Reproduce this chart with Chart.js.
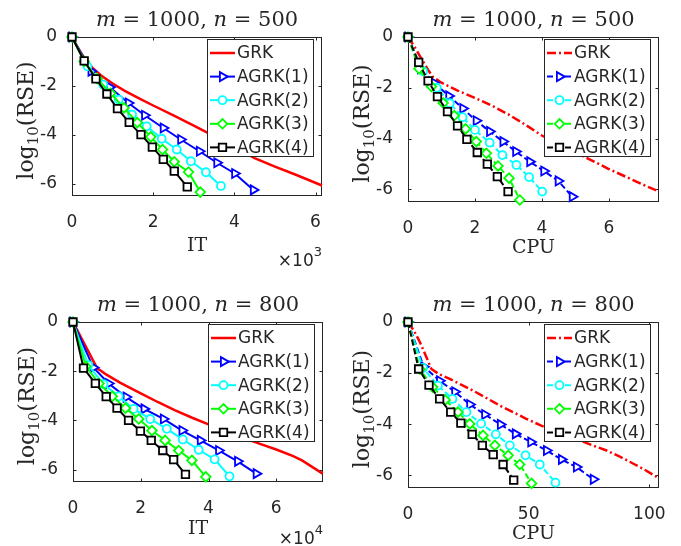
<!DOCTYPE html>
<html>
<head>
<meta charset="utf-8">
<script src="https://cdn.jsdelivr.net/npm/chart.js@4.4.1/dist/chart.umd.min.js"></script>
<style>
  body { margin: 0; background: #fff; }
  #wrap { position: relative; width: 681px; height: 546px; overflow: hidden; }
  canvas { position: absolute; }
</style>
</head>
<body>
<div id="wrap">
  <canvas id="p1" width="340" height="273" style="left:0;top:0"></canvas>
  <canvas id="p2" width="341" height="273" style="left:340px;top:0"></canvas>
  <canvas id="p3" width="340" height="273" style="left:0;top:273px"></canvas>
  <canvas id="p4" width="341" height="273" style="left:340px;top:273px"></canvas>
</div>
<script>
// legend names
const methods = ['GRK', 'AGRK(1)', 'AGRK(2)', 'AGRK(3)', 'AGRK(4)'];

// tick labels
const yTicks = [0, -2, -4, -6];
const xTicksSmall = [0, 2, 4, 6];
const xTicksCpu800 = [0, 50, 100];

// m=1000, n=500 : log10(RSE) vs IT (x10^3)
const it500_grk = [[0,0],[0.15,-0.45],[0.3,-0.85],[0.5,-1.25],[0.7,-1.55],[1.0,-1.9],[1.3,-2.2],[1.7,-2.55],[2.0,-2.8],[2.5,-3.2],[3.0,-3.62],[3.5,-4.05],[4.0,-4.5],[4.5,-4.95],[5.0,-5.3],[5.5,-5.62],[6.16,-6.07]];
const it500_a1 = [[0,0],[0.47,-1.4],[0.93,-2.05],[1.39,-2.7],[1.79,-3.2],[2.25,-3.72],[2.68,-4.19],[3.14,-4.67],[3.57,-5.14],[4.01,-5.58],[4.47,-6.25]];
const it500_a2 = [[0,0],[0.38,-1.2],[0.77,-1.95],[1.15,-2.56],[1.48,-3.17],[1.84,-3.65],[2.21,-4.16],[2.58,-4.6],[2.93,-5.08],[3.30,-5.53],[3.67,-6.09]];
const it500_a3 = [[0,0],[0.30,-1.0],[0.62,-1.7],[0.95,-2.3],[1.28,-2.9],[1.61,-3.5],[1.94,-4.08],[2.23,-4.6],[2.52,-5.1],[2.87,-5.52],[3.16,-6.34]];
const it500_a4 = [[0,0],[0.30,-0.98],[0.59,-1.71],[0.86,-2.33],[1.12,-2.93],[1.41,-3.49],[1.70,-3.99],[1.98,-4.5],[2.25,-5.0],[2.52,-5.48],[2.84,-6.13]];

// m=1000, n=500 : log10(RSE) vs CPU
const cpu500_grk = [[0,0],[0.2,-0.4],[0.4,-0.85],[0.6,-1.3],[0.75,-1.58],[1.0,-1.8],[1.5,-2.12],[2.0,-2.4],[2.5,-2.7],[3.0,-3.05],[3.5,-3.45],[4.0,-3.88],[4.5,-4.22],[5.0,-4.55],[5.5,-4.87],[6.0,-5.2],[6.5,-5.5],[7.0,-5.8],[7.5,-6.09]];
const cpu500_a1 = [[0,0],[0.38,-1.25],[0.77,-1.8],[1.22,-2.32],[1.64,-2.82],[2.04,-3.3],[2.44,-3.72],[2.84,-4.12],[3.22,-4.51],[3.64,-4.91],[4.06,-5.28],[4.49,-5.67],[4.91,-6.29]];
const cpu500_a2 = [[0,0],[0.45,-1.35],[0.86,-2.0],[1.25,-2.61],[1.63,-3.16],[2.0,-3.66],[2.44,-4.16],[2.82,-4.65],[3.24,-5.04],[3.62,-5.52],[4.01,-6.09]];
const cpu500_a3 = [[0,0],[0.33,-1.25],[0.7,-1.95],[1.05,-2.6],[1.38,-3.1],[1.72,-3.62],[2.04,-4.12],[2.34,-4.58],[2.69,-5.08],[3.02,-5.56],[3.34,-6.42]];
const cpu500_a4 = [[0,0],[0.32,-1.0],[0.6,-1.73],[0.88,-2.35],[1.18,-2.94],[1.48,-3.5],[1.76,-4.03],[2.07,-4.55],[2.37,-5.01],[2.67,-5.5],[2.99,-6.09]];

// m=1000, n=800 : log10(RSE) vs IT (x10^4)
const it800_grk = [[0,0],[0.71,-1.87],[1.0,-2.15],[1.4,-2.47],[2.0,-2.9],[2.5,-3.25],[3.0,-3.58],[3.5,-3.88],[4.0,-4.16],[4.5,-4.43],[5.0,-4.7],[5.5,-4.94],[6.0,-5.18],[6.5,-5.45],[6.76,-5.62],[7.37,-6.16]];
const it800_a1 = [[0,0],[0.6,-1.85],[1.05,-2.5],[1.57,-3.05],[2.1,-3.53],[2.67,-3.94],[3.22,-4.41],[3.76,-4.81],[4.3,-5.22],[4.86,-5.66],[5.41,-6.16]];
const it800_a2 = [[0,0],[0.45,-1.75],[0.9,-2.52],[1.35,-3.02],[1.79,-3.53],[2.28,-3.94],[2.77,-4.34],[3.24,-4.77],[3.71,-5.19],[4.18,-5.58],[4.62,-6.27]];
const it800_a3 = [[0,0],[0.38,-1.8],[0.77,-2.5],[1.16,-3.02],[1.55,-3.5],[1.94,-3.94],[2.33,-4.41],[2.72,-4.81],[3.12,-5.22],[3.51,-5.62],[3.92,-6.29]];
const it800_a4 = [[0,0],[0.31,-1.87],[0.66,-2.49],[0.98,-3.03],[1.3,-3.5],[1.64,-4.0],[1.99,-4.43],[2.31,-4.81],[2.65,-5.22],[2.97,-5.59],[3.32,-6.19]];

// m=1000, n=800 : log10(RSE) vs CPU
const cpu800_grk = [[0,0],[2.5,-0.35],[5,-0.8],[7.5,-1.35],[9.7,-1.84],[13,-2.05],[17.3,-2.23],[22,-2.45],[27,-2.69],[32,-2.95],[38,-3.27],[44,-3.55],[49,-3.79],[55,-4.05],[60,-4.25],[66,-4.45],[71.2,-4.64],[77,-4.85],[82.3,-5.03],[88,-5.28],[93.4,-5.55],[98,-5.78],[104.1,-6.13]];
const cpu800_a1 = [[0,0],[6.5,-1.75],[13.1,-2.3],[19.4,-2.73],[25.6,-3.23],[31.8,-3.62],[38.3,-4.01],[44.5,-4.38],[50.9,-4.7],[57.4,-5.03],[63.6,-5.38],[69.8,-5.68],[76.8,-6.16]];
const cpu800_a2 = [[0,0],[6.2,-1.8],[12.4,-2.49],[18.4,-3.01],[24.2,-3.53],[30.3,-3.98],[36.4,-4.4],[42.2,-4.83],[48.7,-5.22],[54.6,-5.58],[61.1,-6.29]];
const cpu800_a3 = [[0,0],[5.0,-1.85],[10.2,-2.55],[15.4,-3.05],[20.7,-3.53],[25.6,-3.99],[31.1,-4.44],[36,-4.83],[41.5,-5.22],[46.3,-5.58],[51.2,-6.32]];
const cpu800_a4 = [[0,0],[4.4,-1.84],[8.7,-2.47],[13.1,-3.01],[17.7,-3.53],[21.9,-3.96],[26.6,-4.4],[30.8,-4.83],[35.3,-5.19],[39.4,-5.58],[43.8,-6.19]];

const colors = ['#ff0000', '#0000ff', '#00ffff', '#00ff00', '#000000'];
const markers = [null, ['triangle', 90, 5.2], ['circle', 0, 4], ['rectRot', 0, 4.8], ['rect', 0, 5.3]];
const AXC = '#262626';
const SANS = '"DejaVu Sans", sans-serif';
const SERIF = '"DejaVu Serif", serif';

function makeDatasets(series, cpu) {
  return series.map((pts, i) => {
    const d = {
      label: methods[i],
      data: pts.map(p => ({ x: p[0], y: p[1] })),
      borderColor: colors[i],
      borderWidth: i === 0 ? 2.5 : 2,
      tension: 0,
      clip: false,
      order: 4 - i,
      pointRadius: 0,
    };
    if (cpu) d.borderDash = i === 0 ? [9, 3, 2, 3] : [6, 3];
    if (markers[i]) {
      d.pointStyle = markers[i][0];
      d.pointRotation = markers[i][1];
      d.pointRadius = markers[i][2];
      d.pointBorderWidth = 1.8;
      d.pointBorderColor = colors[i];
      d.pointBackgroundColor = '#fff';
    }
    return d;
  });
}

// draws the box, inward ticks, title, axis labels and legend
function decoPlugin(cfg) {
  return {
    id: 'deco',
    beforeDatasetsDraw(chart) {
      const { ctx, chartArea: a, scales: { x, y } } = chart;
      const L = Math.round(a.left) + 0.5, R = Math.round(a.right) - 0.5;
      const T = Math.round(a.top) + 0.5, B = Math.round(a.bottom) - 0.5;
      ctx.save();
      ctx.strokeStyle = AXC;
      ctx.lineWidth = 1;
      ctx.strokeRect(L, T, R - L, B - T);
      ctx.beginPath();
      x.ticks.forEach(t => {
        const px = Math.round(x.getPixelForValue(t.value)) + 0.5;
        ctx.moveTo(px, B); ctx.lineTo(px, B - 3);
        ctx.moveTo(px, T); ctx.lineTo(px, T + 3);
      });
      y.ticks.forEach(t => {
        const py = Math.round(y.getPixelForValue(t.value)) + 0.5;
        ctx.moveTo(L, py); ctx.lineTo(L + 3, py);
        ctx.moveTo(R, py); ctx.lineTo(R - 3, py);
      });
      ctx.stroke();
      ctx.restore();
    },
    afterDatasetsDraw(chart) {
      const { ctx, chartArea: a } = chart;
      const lw = 106, lh = 117;
      const bx = Math.round(a.right) - 9 - lw, by = Math.round(a.top) + 2;
      ctx.save();
      ctx.fillStyle = '#fff';
      ctx.fillRect(bx, by, lw, lh);
      ctx.strokeStyle = AXC;
      ctx.lineWidth = 1;
      ctx.strokeRect(bx + 0.5, by + 0.5, lw, lh);
      chart.data.datasets.forEach((ds, i) => {
        const cy = by + 14 + i * 23.6;
        ctx.strokeStyle = ds.borderColor;
        ctx.lineWidth = ds.borderWidth;
        ctx.setLineDash(ds.borderDash || []);
        ctx.beginPath();
        ctx.moveTo(bx + 3, cy); ctx.lineTo(bx + 28, cy);
        ctx.stroke();
        ctx.setLineDash([]);
        if (ds.pointStyle && ds.pointRadius > 0) {
          ctx.fillStyle = '#fff';
          ctx.lineWidth = ds.pointBorderWidth;
          Chart.helpers.drawPoint(ctx, {
            pointStyle: ds.pointStyle, rotation: ds.pointRotation,
            radius: ds.pointRadius, borderWidth: ds.pointBorderWidth
          }, bx + 15.5, cy);
        }
        ctx.fillStyle = AXC;
        ctx.font = '17px ' + SANS;
        ctx.textBaseline = 'middle';
        ctx.textAlign = 'left';
        ctx.fillText(ds.label, bx + 30, cy + 1);
      });
      ctx.restore();
    },
    afterDraw(chart) {
      const { ctx, chartArea: a } = chart;
      const cx = (a.left + a.right) / 2;
      ctx.save();
      ctx.fillStyle = AXC;
      ctx.textBaseline = 'alphabetic';
      // title with italic m and n
      const segs = [['m', true], [' = 1000, ', false], ['n', true], [' = ' + cfg.n, false]];
      const fontOf = it => (it ? 'italic ' : '') + '21px ' + SERIF;
      let total = 0;
      segs.forEach(s => { ctx.font = fontOf(s[1]); total += ctx.measureText(s[0]).width; });
      let tx = cx - total / 2;
      segs.forEach(s => {
        ctx.font = fontOf(s[1]);
        ctx.textAlign = 'left';
        ctx.fillText(s[0], tx, a.top - 11);
        tx += ctx.measureText(s[0]).width;
      });
      // x label
      ctx.font = '19px ' + SERIF;
      ctx.textAlign = 'center';
      ctx.fillText(cfg.xLabel, cx, a.bottom + cfg.xLabelOff);
      // exponent
      if (cfg.exp) {
        ctx.font = '13px ' + SANS;
        const ew = ctx.measureText(cfg.exp).width;
        ctx.textAlign = 'right';
        ctx.fillText(cfg.exp, a.right, a.bottom + cfg.expOff - 10);
        ctx.font = '17px ' + SANS;
        ctx.fillText('\u00d710', a.right - ew, a.bottom + cfg.expOff);
      }
      // y label log_10(RSE)
      ctx.translate(a.left - 45, (a.top + a.bottom) / 2 + 4);
      ctx.rotate(-Math.PI / 2);
      const ys = [['log', 22, 0], ['10', 15, 5], ['(RSE)', 22, 0]];
      let yw = 0;
      ys.forEach(s => { ctx.font = s[1] + 'px ' + SERIF; yw += ctx.measureText(s[0]).width; });
      let yx = -yw / 2;
      ctx.textAlign = 'left';
      ys.forEach(s => {
        ctx.font = s[1] + 'px ' + SERIF;
        ctx.fillText(s[0], yx, 6 + s[2]);
        yx += ctx.measureText(s[0]).width;
      });
      ctx.restore();
    }
  };
}

function makeChart(id, series, cfg) {
  const W = cfg.w, H = cfg.h;
  new Chart(document.getElementById(id), {
    type: 'line',
    data: { datasets: makeDatasets(series, cfg.cpu) },
    options: {
      responsive: false,
      animation: false,
      events: [],
      layout: { padding: { left: 0, top: cfg.area[1], right: W - cfg.area[2], bottom: 0 } },
      plugins: { legend: { display: false }, tooltip: { enabled: false } },
      scales: {
        x: {
          type: 'linear', min: 0, max: cfg.xMax,
          afterBuildTicks: s => { s.ticks = cfg.xTicks.map(v => ({ value: v })); },
          afterFit: s => { s.height = H - cfg.area[3]; },
          grid: { display: false }, border: { display: false },
          ticks: { color: AXC, font: { family: SANS, size: 17 }, padding: 8, maxRotation: 0, autoSkip: false }
        },
        y: {
          type: 'linear', min: -6.5, max: 0,
          afterBuildTicks: s => { s.ticks = yTicks.map(v => ({ value: v })); },
          afterFit: s => { s.width = cfg.area[0]; },
          grid: { display: false }, border: { display: false },
          ticks: { color: AXC, font: { family: SANS, size: 17 }, padding: 7 }
        }
      }
    },
    plugins: [decoPlugin(cfg)]
  });
}

makeChart('p1', [it500_grk, it500_a1, it500_a2, it500_a3, it500_a4],
  { w: 340, h: 273, area: [72, 37, 322, 196], xMax: 6.16, xTicks: xTicksSmall, n: 500, xLabel: 'IT', xLabelOff: 55, exp: '3', expOff: 70, cpu: false });
makeChart('p2', [cpu500_grk, cpu500_a1, cpu500_a2, cpu500_a3, cpu500_a4],
  { w: 341, h: 273, area: [68, 37, 319, 202], xMax: 7.5, xTicks: xTicksSmall, n: 500, xLabel: 'CPU', xLabelOff: 51, exp: null, cpu: true });
makeChart('p3', [it800_grk, it800_a1, it800_a2, it800_a3, it800_a4],
  { w: 340, h: 273, area: [73, 49, 323, 209], xMax: 7.38, xTicks: xTicksSmall, n: 800, xLabel: 'IT', xLabelOff: 52, exp: '4', expOff: 62, cpu: false });
makeChart('p4', [cpu800_grk, cpu800_a1, cpu800_a2, cpu800_a3, cpu800_a4],
  { w: 341, h: 273, area: [68, 49, 319, 215], xMax: 104, xTicks: xTicksCpu800, n: 800, xLabel: 'CPU', xLabelOff: 51, exp: null, cpu: true });
</script>
</body>
</html>
